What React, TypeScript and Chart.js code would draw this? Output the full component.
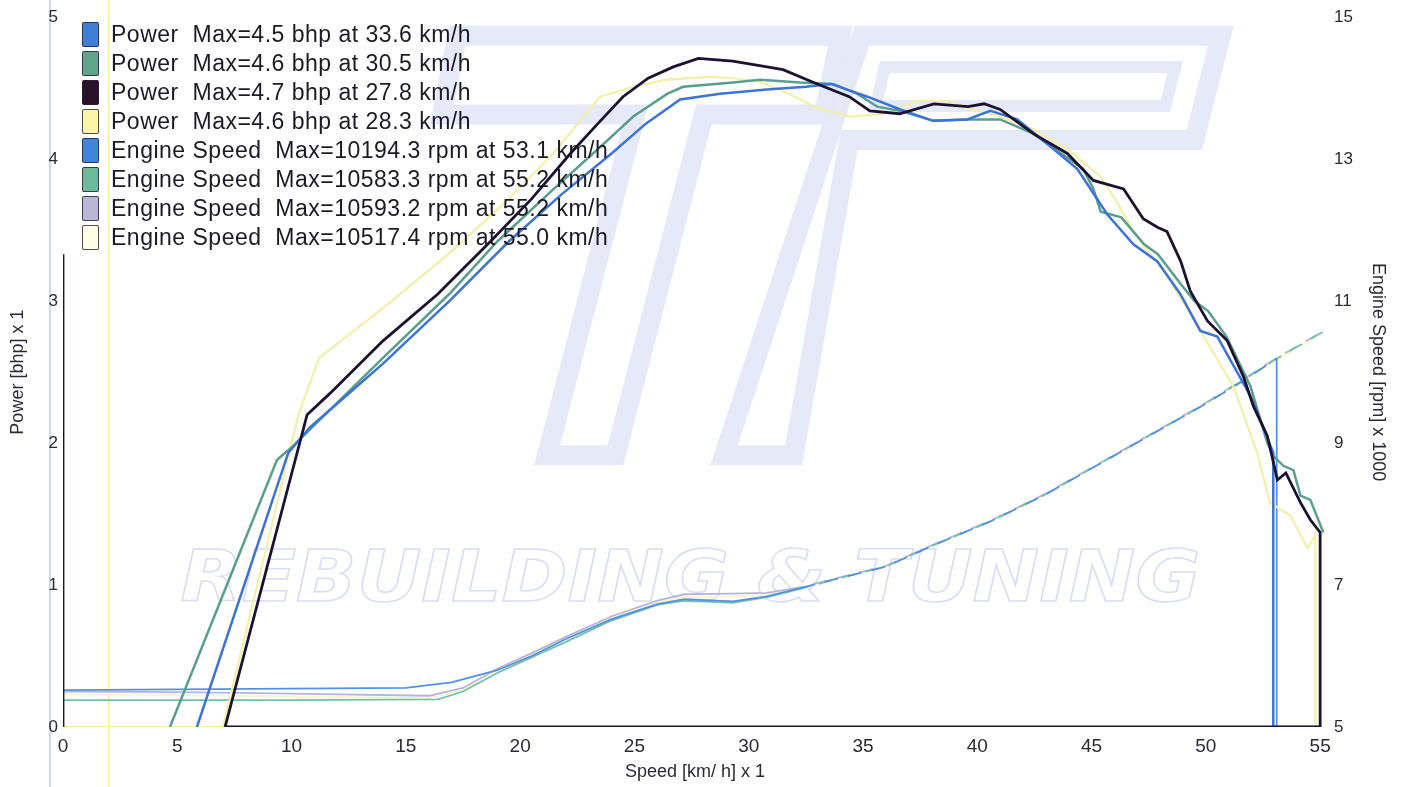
import React, { useEffect, useRef } from "react";
import { Chart, registerables } from "chart.js";

Chart.register(...registerables);

type Pt = [number, number | null];

// ---- axes ----
const SPEED_MIN = 0;
const SPEED_MAX = 55.3;
const SPEED_STEP = 5;
const POWER_MIN = 0;
const POWER_MAX = 5;
const POWER_STEP = 1;
const RPM_MIN = 5;
const RPM_MAX = 15;
const RPM_STEP = 2;
const CURSOR_SPEED = 2;
const DASH_FROM_SPEED = 32.3;

const X_TITLE = "Speed [km/ h] x 1";
const Y_TITLE = "Power [bhp] x 1";
const Y2_TITLE = "Engine Speed [rpm] x 1000";

// ---- power series: [speed km/h, power bhp] ----
const powerBlue: Pt[] = [
  [5.86, 0], [9.85, 1.93], [10.8, 2.11], [14, 2.56], [16.9, 3.0], [19.5, 3.42], [21.8, 3.75],
  [24.0, 4.04], [25.5, 4.25], [27.0, 4.42], [28.75, 4.46], [30.8, 4.49], [32.5, 4.51], [33.6, 4.53],
  [35.19, 4.44], [36.63, 4.35], [38.07, 4.27], [39.56, 4.28], [40.57, 4.34], [41.75, 4.28],
  [43.19, 4.09], [44.38, 3.93], [45.69, 3.61], [46.83, 3.40], [47.88, 3.28], [48.88, 3.05],
  [49.76, 2.79], [50.5, 2.75], [51.82, 2.37], [52.1, 2.28], [52.95, 1.93], [52.95, 0], [55, 0],
];

const powerGreen: Pt[] = [
  [4.68, 0], [9.36, 1.88], [10.07, 1.98], [14, 2.6], [16.9, 3.05], [19.0, 3.42], [21.4, 3.78],
  [23.6, 4.1], [24.95, 4.3], [26.43, 4.46], [27.13, 4.51], [29.32, 4.54], [30.5, 4.56],
  [32.25, 4.54], [33.7, 4.53], [34.75, 4.46], [35.62, 4.37], [36.63, 4.34], [38.07, 4.27],
  [39.56, 4.28], [41.0, 4.28], [42.45, 4.18], [44.64, 3.93], [45.08, 3.79], [45.4, 3.63],
  [46.3, 3.59], [47.3, 3.40], [47.9, 3.33], [48.9, 3.12], [49.5, 3.0], [50.1, 2.93],
  [50.9, 2.75], [51.95, 2.40], [52.69, 2.00], [52.95, 1.91], [53.39, 1.84], [53.83, 1.81],
  [54.14, 1.63], [54.57, 1.60], [55.14, 1.37],
];

const powerBlack: Pt[] = [
  [0, 3.33], [0, 0], [3, null],
  [7.09, 0], [10.68, 2.2], [11.68, 2.35], [14, 2.72], [16.4, 3.05], [18.7, 3.42], [20.5, 3.72],
  [22.2, 4.04], [23.4, 4.25], [24.5, 4.44], [25.6, 4.57], [26.7, 4.65], [27.8, 4.71],
  [29.3, 4.69], [30.8, 4.65], [31.5, 4.63], [33.0, 4.53], [34.4, 4.44], [35.3, 4.34],
  [36.6, 4.32], [38.1, 4.39], [39.6, 4.37], [40.3, 4.39], [41.0, 4.35], [42.45, 4.18],
  [43.94, 4.04], [45.08, 3.85], [46.4, 3.79], [47.26, 3.58], [47.88, 3.52], [48.3, 3.49],
  [48.9, 3.28], [49.32, 3.07], [50.07, 2.86], [50.94, 2.72], [51.64, 2.47], [52.08, 2.26],
  [52.69, 2.05], [53.13, 1.74], [53.5, 1.79], [54.14, 1.58], [54.57, 1.46], [55.0, 1.37],
  [55.0, 0], [7.09, 0],
];

const powerYellow: Pt[] = [
  [7.0, 0], [10.3, 2.2], [11.2, 2.6], [14, 2.95], [17, 3.35], [19.5, 3.72], [21.5, 4.05],
  [23.5, 4.44], [24.95, 4.51], [26.43, 4.56], [28.3, 4.58], [29.32, 4.57], [30.37, 4.55],
  [31.5, 4.48], [33.0, 4.36], [34.44, 4.30], [35.89, 4.32], [37.37, 4.41], [38.82, 4.41],
  [39.56, 4.36], [41.0, 4.30], [42.45, 4.21], [43.94, 4.07], [45.38, 3.88], [46.1, 3.7],
  [46.83, 3.49], [48.32, 3.17], [49.32, 2.91], [51.2, 2.40], [52.25, 1.93], [52.8, 1.58],
  [53.7, 1.49], [54.44, 1.26], [54.79, 1.35], [54.79, 0], [0, 0],
];

// ---- engine speed series: [speed km/h, rpm x 1000] ----
const rpmBlue: Pt[] = [
  [0, 5.52], [5, 5.53], [10, 5.54], [15, 5.55], [17, 5.63], [19, 5.8], [20.5, 6.0], [22, 6.24],
  [24, 6.52], [26, 6.73], [27.2, 6.8], [29.3, 6.77], [30.8, 6.84], [32.3, 6.96], [34, 7.1],
  [36, 7.26], [38, 7.55], [40.6, 7.9], [43, 8.28], [45.2, 8.68], [47.5, 9.1], [49.8, 9.52],
  [51.5, 9.85], [53.1, 10.19], [53.1, 5], [55, 5],
];

const rpmGreen: Pt[] = [
  [0, 5.38], [5, 5.38], [10, 5.38], [16.4, 5.39], [17.5, 5.5], [19, 5.76], [20.5, 5.98],
  [22, 6.2], [24, 6.5], [26, 6.72], [27.2, 6.78], [29.3, 6.75], [30.8, 6.83], [32.3, 6.95],
  [34, 7.1], [36, 7.26], [38, 7.55], [40.6, 7.9], [43, 8.28], [45.2, 8.68], [47.5, 9.1],
  [49.8, 9.52], [51.5, 9.86], [53.1, 10.19], [55.2, 10.58],
];

const rpmLavender: Pt[] = [
  [0, 5.5], [5, 5.49], [10, 5.47], [16, 5.44], [17.5, 5.55], [19, 5.82], [20.5, 6.04],
  [22, 6.27], [24, 6.56], [26, 6.78], [27.2, 6.87], [29.3, 6.88], [30.8, 6.89], [32.3, 6.97],
  [34, 7.11], [36, 7.27], [38, 7.56], [40.6, 7.91], [43, 8.29], [45.2, 8.69], [47.5, 9.11],
  [49.8, 9.53], [51.5, 9.87], [53.1, 10.2], [55.2, 10.59],
];

const rpmYellow: Pt[] = [
  [0, 5.46], [5, 5.45], [10, 5.43], [16, 5.41], [17.5, 5.52], [19, 5.79], [20.5, 6.01],
  [22, 6.24], [24, 6.53], [26, 6.75], [27.2, 6.83], [29.3, 6.84], [30.8, 6.86], [32.3, 6.96],
  [34, 7.1], [36, 7.26], [38, 7.55], [40.6, 7.9], [43, 8.27], [45.2, 8.67], [47.5, 9.09],
  [49.8, 9.5], [51.5, 9.84], [53.1, 10.17], [55.0, 10.52],
];

// ---- legend ----
const legendLabels = [
  "Power  Max=4.5 bhp at 33.6 km/h",
  "Power  Max=4.6 bhp at 30.5 km/h",
  "Power  Max=4.7 bhp at 27.8 km/h",
  "Power  Max=4.6 bhp at 28.3 km/h",
  "Engine Speed  Max=10194.3 rpm at 53.1 km/h",
  "Engine Speed  Max=10583.3 rpm at 55.2 km/h",
  "Engine Speed  Max=10593.2 rpm at 55.2 km/h",
  "Engine Speed  Max=10517.4 rpm at 55.0 km/h",
];
const legendSwatches = [
  "#3f7fd6", "#5ea58b", "#2a1228", "#fbf5a6",
  "#3d86db", "#6bbb9a", "#b8b8d6", "#fffde6",
];
const lineColors = [
  "#3b74d6", "#5a9f8c", "#1d1230", "#f4efa8",
  "#5591e0", "#72c2a8", "#b5b5dc", "#faf5cc",
];

// ---- decorative watermark outlines (fractions of the plot area) ----
const logoT: [number, number][] = [
  [0.312, 0.026], [0.615, 0.026], [0.602, 0.137], [0.507, 0.137], [0.437, 0.617],
  [0.383, 0.617], [0.453, 0.137], [0.300, 0.137],
];
const logoP: [number, number][] = [
  [0.632, 0.026], [0.916, 0.026], [0.895, 0.173], [0.622, 0.173], [0.578, 0.617],
  [0.523, 0.617],
];
const logoPHole: [number, number][] = [
  [0.650, 0.070], [0.880, 0.070], [0.872, 0.125], [0.643, 0.125],
];

const FONT = "'Liberation Sans', Arial, sans-serif";
const TEXT = "#2a2a36";

const toXY = (pts: Pt[]) => pts.map(([x, y]) => ({ x, y }));

const backdrop = {
  id: "backdrop",
  beforeDatasetsDraw(chart: any) {
    const { ctx, chartArea: a, scales } = chart;
    const w = a.right - a.left;
    const h = a.bottom - a.top;
    const poly = (pts: [number, number][]) => {
      ctx.beginPath();
      pts.forEach(([fx, fy], i) => {
        const px = a.left + fx * w;
        const py = a.top + fy * h;
        if (i === 0) ctx.moveTo(px, py);
        else ctx.lineTo(px, py);
      });
      ctx.closePath();
      ctx.stroke();
    };
    ctx.save();
    ctx.lineJoin = "miter";
    ctx.strokeStyle = "rgba(229,232,248,0.95)";
    ctx.lineWidth = 20;
    poly(logoT);
    poly(logoP);
    ctx.lineWidth = 12;
    poly(logoPHole);
    // watermark text
    ctx.font = "italic bold 72px 'DejaVu Sans'";
    const label = "REBUILDING & TUNING";
    const tw = ctx.measureText(label).width;
    ctx.save();
    ctx.translate(a.left + 0.093 * w, a.top + 0.823 * h);
    ctx.scale((0.807 * w) / tw, 1);
    ctx.strokeStyle = "rgba(208,213,240,0.8)";
    ctx.lineWidth = 1.5;
    ctx.strokeText(label, 0, 0);
    ctx.restore();
    // cursor line
    const cx = scales.x.getPixelForValue(CURSOR_SPEED);
    ctx.strokeStyle = "rgba(244,238,160,0.85)";
    ctx.lineWidth = 2;
    ctx.beginPath();
    ctx.moveTo(cx, 0);
    ctx.lineTo(cx, chart.height);
    ctx.stroke();
    ctx.restore();
  },
};

export default function App() {
  const ref = useRef<HTMLCanvasElement | null>(null);

  useEffect(() => {
    document.body.style.margin = "0";
    const canvas = ref.current;
    if (!canvas) return;
    const series = [powerBlue, powerGreen, powerBlack, powerYellow, rpmBlue, rpmGreen, rpmLavender, rpmYellow];
    const orders = [1, 2, 0, 3, 4, 5, 6, 7];
    const widths = [2.5, 2.5, 2.8, 2.2, 1.8, 1.8, 1.8, 1.8];
    const datasets = series.map((s, i) => {
      const isRpm = i >= 4;
      const k = i - 4;
      return {
        label: legendLabels[i],
        data: toXY(s),
        borderColor: lineColors[i],
        backgroundColor: lineColors[i],
        borderWidth: widths[i],
        yAxisID: isRpm ? "y2" : "y",
        order: orders[i],
        pointRadius: 0,
        tension: 0,
        fill: false,
        spanGaps: false,
        segment: isRpm
          ? {
              borderDash: (ctx: any) =>
                ctx.p0.parsed.x >= DASH_FROM_SPEED && ctx.p1.parsed.y > RPM_MIN ? [14, 10] : undefined,
              borderDashOffset: (ctx: any) => (ctx.p0.parsed.x >= DASH_FROM_SPEED ? k * 6 : 0),
            }
          : undefined,
      };
    });

    const chart = new Chart(canvas, {
      type: "line",
      data: { datasets },
      plugins: [backdrop],
      options: {
        animation: false,
        responsive: false,
        devicePixelRatio: 1,
        layout: { padding: { top: 10, left: 0, right: 0, bottom: 0 } },
        plugins: { legend: { display: false }, tooltip: { enabled: false } },
        scales: {
          x: {
            type: "linear",
            min: SPEED_MIN,
            max: SPEED_MAX,
            grid: { display: false, drawTicks: false },
            border: { display: false },
            ticks: {
              stepSize: SPEED_STEP,
              includeBounds: false,
              padding: 8,
              color: TEXT,
              font: { family: FONT, size: 19 },
            },
            title: {
              display: true,
              text: X_TITLE,
              color: TEXT,
              font: { family: FONT, size: 18 },
              padding: { top: 0, bottom: 4 },
            },
            afterFit: (s: any) => { s.height = 60; },
          },
          y: {
            type: "linear",
            position: "left",
            min: POWER_MIN,
            max: POWER_MAX,
            grid: { display: false, drawTicks: false },
            border: { display: false },
            ticks: {
              stepSize: POWER_STEP,
              padding: 5,
              color: TEXT,
              font: { family: FONT, size: 17 },
            },
            title: {
              display: true,
              text: Y_TITLE,
              color: TEXT,
              font: { family: FONT, size: 18 },
              padding: { top: 7, bottom: 0 },
            },
            afterFit: (s: any) => { s.width = 63; },
          },
          y2: {
            type: "linear",
            position: "right",
            min: RPM_MIN,
            max: RPM_MAX,
            grid: { display: false, drawTicks: false },
            border: { display: false },
            ticks: {
              stepSize: RPM_STEP,
              padding: 7,
              color: TEXT,
              font: { family: FONT, size: 17 },
            },
            title: {
              display: true,
              text: Y2_TITLE,
              color: TEXT,
              font: { family: FONT, size: 18 },
              padding: { top: 14, bottom: 0 },
            },
            afterFit: (s: any) => { s.width = 76; },
          },
        },
      } as any,
    });
    return () => chart.destroy();
  }, []);

  return (
    <div style={{ position: "relative", width: 1403, height: 787, background: "#ffffff", overflow: "hidden" }}>
      <div style={{ position: "absolute", left: 49, top: 0, width: 2, height: 787, background: "#cdd6f2" }} />
      <canvas ref={ref} width={1403} height={787} style={{ position: "absolute", left: 0, top: 0, width: 1403, height: 787 }} />
      <div style={{ position: "absolute", left: 82, top: 20, fontFamily: FONT, fontSize: 23, letterSpacing: 0.5, color: "#1c1a26" }}>
        {legendLabels.map((lab, i) => (
          <div key={i} style={{ height: 29, display: "flex", alignItems: "center" }}>
            <span
              style={{
                display: "inline-block",
                width: 15,
                height: 23,
                background: legendSwatches[i],
                border: "1.5px solid rgba(40,30,50,0.8)",
                borderRadius: 2,
                marginRight: 12,
                flex: "none",
              }}
            />
            <span style={{ whiteSpace: "pre", lineHeight: "29px" }}>{lab}</span>
          </div>
        ))}
      </div>
    </div>
  );
}
